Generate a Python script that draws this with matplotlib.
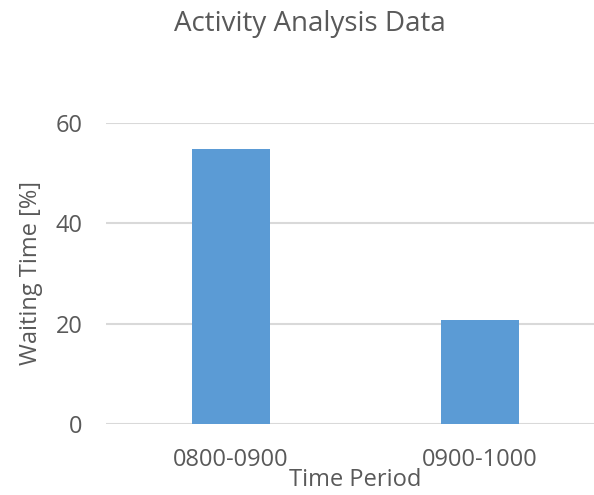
import matplotlib
matplotlib.use("Agg")
import matplotlib.pyplot as plt

categories = ["0800-0900", "0900-1000"]
values = [54.8, 20.7]
yticks = [0, 20, 40, 60]

TXT = "#595959"
plt.rcParams['font.family'] = ['Open Sans', 'DejaVu Sans']

fig = plt.figure(figsize=(5.94, 4.95), dpi=100)
ax = fig.add_axes([106/594, 1-424/495, (594-106)/594, (424-123)/495])

x = list(range(len(categories)))
ax.bar(x, values, width=0.313, color="#5b9bd5", zorder=3)
ax.set_xlim(-0.502, 1.458)
ax.set_ylim(0, 60)
ax.set_yticks(yticks)
ax.set_xticks(x)
ax.set_xticklabels(categories)
ax.yaxis.grid(True, color="#d9d9d9", linewidth=1.5, zorder=0)
for s in ax.spines.values():
    s.set_visible(False)
ax.tick_params(axis='both', length=0, labelsize=17, labelcolor=TXT)
ax.tick_params(axis='y', pad=17)
ax.tick_params(axis='x', pad=17)
ax.set_ylabel("Waiting Time [%]", fontsize=17, color=TXT, labelpad=9)
ax.set_xlabel("Time Period", fontsize=17, color=TXT)
ax.xaxis.set_label_coords((355-106)/488, -68/301, transform=ax.transAxes)
ax.xaxis.label.set_va('bottom')
fig.text(310/594, 1-24/495, "Activity Analysis Data", ha='center', va='center', fontsize=20, color=TXT)

fig.savefig("out.png", dpi=100)
